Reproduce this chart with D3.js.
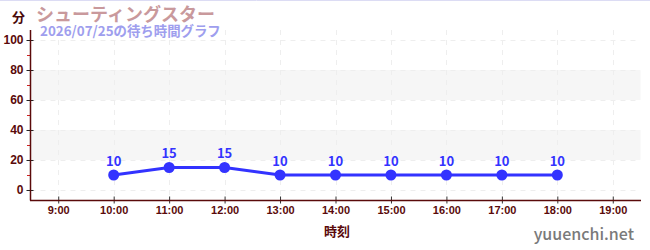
<!DOCTYPE html>
<html>
<head>
<meta charset="utf-8" />
<title>シューティングスター</title>
<script src="https://cdn.jsdelivr.net/npm/d3@7"></script>
<style>
  html, body { margin: 0; background: #fff; }
  svg { display: block; font-family: "Noto Sans CJK JP", "Noto Sans", sans-serif; }
</style>
</head>
<body>
<div id="chart"></div>
<script>
var hours = [10, 11, 12, 13, 14, 15, 16, 17, 18];
var waits = [10, 15, 15, 10, 10, 10, 10, 10, 10];
var xTicks = [9, 10, 11, 12, 13, 14, 15, 16, 17, 18, 19];
var yTicks = [0, 20, 40, 60, 80, 100];
var yMinor = [10, 30, 50, 70, 90];
var bands = [[20, 40], [60, 80]];

var W = 650, H = 250;
var svg = d3.select('#chart').append('svg').attr('width', W).attr('height', H);

var x = d3.scaleLinear().domain([8.5, 19.5]).range([30.5, 640.5]);
var y = d3.scaleLinear().domain([-6.67, 106.67]).range([200, 30]);

// top border
svg.append('line').attr('x1', 0).attr('x2', W).attr('y1', 0.5).attr('y2', 0.5)
  .attr('stroke', '#dcdcf4').attr('stroke-width', 1);

// bands
svg.selectAll('rect.band').data(bands).enter().append('rect')
  .attr('class', 'band')
  .attr('x', x(8.5)).attr('width', x(19.5) - x(8.5))
  .attr('y', function(d){ return y(d[1]); })
  .attr('height', function(d){ return y(d[0]) - y(d[1]); })
  .attr('fill', '#f6f6f6');

// grid
svg.selectAll('line.gy').data(yTicks).enter().append('line')
  .attr('x1', x(8.5)).attr('x2', x(19.5))
  .attr('y1', function(d){ return Math.round(y(d)) + 0.5; })
  .attr('y2', function(d){ return Math.round(y(d)) + 0.5; })
  .attr('stroke', '#eeeeee').attr('stroke-dasharray', '5,5');
svg.selectAll('line.gx').data(xTicks).enter().append('line')
  .attr('x1', function(d){ return Math.round(x(d)) + 0.5; })
  .attr('x2', function(d){ return Math.round(x(d)) + 0.5; })
  .attr('y1', 30).attr('y2', 200)
  .attr('stroke', '#eeeeee').attr('stroke-dasharray', '5,5');

var axisCol = '#5a0a0a';

// y axis
var gy = svg.append('g').attr('transform', 'translate(30.5,0)')
  .call(d3.axisLeft(y).tickValues(yTicks).tickSize(4).tickPadding(3));
gy.select('.domain').remove();
gy.selectAll('.tick line').attr('x2', 3).attr('x1', -4).attr('stroke', '#222');
gy.selectAll('.tick text').attr('fill', axisCol).attr('font-size', 12).attr('font-weight', 'bold')
  .attr('font-family', 'inherit');
svg.selectAll('line.ym').data(yMinor).enter().append('line')
  .attr('x1', 27).attr('x2', 30)
  .attr('y1', function(d){ return Math.round(y(d)) + 0.5; })
  .attr('y2', function(d){ return Math.round(y(d)) + 0.5; })
  .attr('stroke', '#d02020');
svg.append('line').attr('x1', 30.5).attr('x2', 30.5).attr('y1', 30).attr('y2', 200.5)
  .attr('stroke', axisCol).attr('stroke-width', 1.5);

// x axis
var gx = svg.append('g').attr('transform', 'translate(0,200.5)')
  .call(d3.axisBottom(x).tickValues(xTicks).tickSize(4).tickPadding(2)
    .tickFormat(function(d){ return d + ':00'; }));
gx.select('.domain').remove();
gx.selectAll('.tick line').attr('y1', -4).attr('y2', 3).attr('stroke', '#333');
gx.selectAll('.tick text').attr('fill', axisCol).attr('font-size', 11).attr('font-weight', 'bold')
  .attr('font-family', 'inherit');
svg.append('line').attr('x1', 30).attr('x2', 641).attr('y1', 200.5).attr('y2', 200.5)
  .attr('stroke', axisCol).attr('stroke-width', 1.5);

// line + points
var pts = hours.map(function(h, i){ return [h, waits[i]]; });
svg.append('path').datum(pts)
  .attr('d', d3.line().x(function(d){ return x(d[0]); }).y(function(d){ return y(d[1]); }))
  .attr('fill', 'none').attr('stroke', '#3333ff').attr('stroke-width', 3);
svg.selectAll('circle.pt').data(pts).enter().append('circle')
  .attr('cx', function(d){ return x(d[0]); })
  .attr('cy', function(d){ return y(d[1]); })
  .attr('r', 5.5).attr('fill', '#3333ff');
svg.selectAll('text.val').data(pts).enter().append('text')
  .attr('x', function(d){ return x(d[0]); })
  .attr('y', function(d){ return y(d[1]) - 9; })
  .attr('text-anchor', 'middle').attr('font-size', 13).attr('font-weight', 'bold')
  .attr('fill', '#3333ff').text(function(d){ return d[1]; });

// titles
svg.append('text').attr('x', 12).attr('y', 22).attr('font-size', 13).attr('font-weight', 'bold')
  .attr('fill', '#4a0a0a').text('分');
svg.append('text').attr('x', 36).attr('y', 21).attr('font-size', 18).attr('font-weight', 'bold')
  .attr('fill', '#c9999c').text('シューティングスター');
svg.append('text').attr('x', 40).attr('y', 36).attr('font-size', 13.4).attr('font-weight', 'bold')
  .attr('fill', '#9e9eee').text('2026/07/25の待ち時間グラフ');
svg.append('text').attr('x', 337).attr('y', 236).attr('text-anchor', 'middle')
  .attr('font-size', 13).attr('font-weight', 'bold').attr('fill', axisCol).text('時刻');
svg.append('text').attr('x', 634).attr('y', 240).attr('text-anchor', 'end')
  .attr('font-size', 16).attr('font-weight', 500).attr('fill', '#7a7a7a').text('yuuenchi.net');
</script>
</body>
</html>
